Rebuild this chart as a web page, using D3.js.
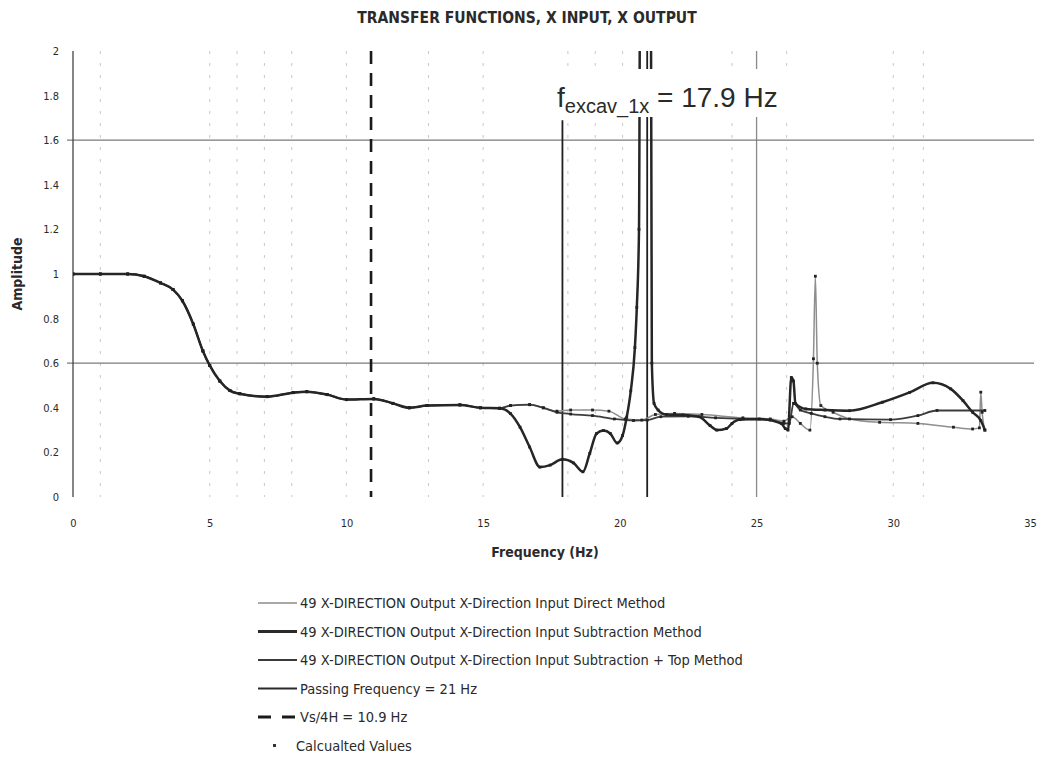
<!DOCTYPE html>
<html>
<head>
<meta charset="utf-8">
<script src="https://cdn.jsdelivr.net/npm/d3@7"></script>
<style>
  body { margin: 0; background: #fff; }
  text { font-family: "Liberation Sans Narrow", "DejaVu Sans Condensed", sans-serif; fill: #2a2a2a; }
</style>
</head>
<body>
<div id="chart"></div>
<script>
/* DATA, [frequency Hz, amplitude] */
// the three curves lie on top of each other up to ~15.6 Hz
const commonPart = [
  [0, 1.0], [1, 1.0], [2, 1.0], [2.6, 0.99], [3.2, 0.96], [3.66, 0.93], [4.0, 0.88],
  [4.4, 0.775], [4.75, 0.655], [5.0, 0.59], [5.37, 0.52], [5.74, 0.477], [6.1, 0.463],
  [7.1, 0.45], [8.05, 0.468], [8.55, 0.472], [9.3, 0.459], [10.0, 0.437], [11.0, 0.44],
  [11.7, 0.42], [12.3, 0.40], [12.95, 0.41], [14.15, 0.413], [14.9, 0.40], [15.6, 0.398]
];

const directTail = [
  [16.0, 0.41], [16.7, 0.414], [17.2, 0.40], [17.7, 0.385], [18.2, 0.39], [19.0, 0.39],
  [19.6, 0.385], [20.2, 0.35], [20.8, 0.345], [21.3, 0.37], [22.0, 0.375], [23.0, 0.37],
  [24.5, 0.355], [25.5, 0.35], [26.0, 0.34], [26.3, 0.36], [26.6, 0.33], [26.95, 0.30],
  [27.08, 0.62], [27.15, 0.99], [27.22, 0.6], [27.35, 0.41], [27.8, 0.38], [28.4, 0.35],
  [29.5, 0.335], [30.9, 0.33], [32.2, 0.313], [32.9, 0.305], [33.15, 0.31], [33.2, 0.47],
  [33.25, 0.38], [33.35, 0.30]
];

const subtractionTail = [
  [16.0, 0.374], [16.35, 0.313], [16.7, 0.224], [17.08, 0.134], [17.45, 0.143], [17.9, 0.169],
  [18.3, 0.153], [18.65, 0.113], [18.9, 0.196], [19.15, 0.285], [19.4, 0.298], [19.65, 0.285],
  [19.9, 0.242], [20.1, 0.276], [20.25, 0.358], [20.4, 0.476], [20.55, 0.67], [20.62, 0.85],
  [20.7, 1.2], [20.76, 3.0], [21.12, 3.0], [21.17, 0.6], [21.25, 0.42], [21.4, 0.39],
  [21.7, 0.37], [22.3, 0.368], [22.9, 0.36], [23.3, 0.32], [23.55, 0.30], [23.9, 0.307],
  [24.1, 0.33], [24.4, 0.347], [25.1, 0.35], [25.9, 0.33], [26.05, 0.307], [26.15, 0.30],
  [26.27, 0.536], [26.35, 0.52], [26.42, 0.42], [26.8, 0.395], [27.5, 0.39], [28.4, 0.387],
  [29.6, 0.425], [30.6, 0.469], [31.45, 0.512], [32.1, 0.485], [32.55, 0.432], [32.9, 0.38],
  [33.2, 0.343], [33.35, 0.30]
];

const subTopTail = [
  [16.0, 0.41], [16.7, 0.414], [17.2, 0.40], [17.7, 0.38], [18.2, 0.372], [19.0, 0.365],
  [19.8, 0.35], [20.5, 0.343], [21.0, 0.345], [21.5, 0.36], [22.5, 0.362], [23.5, 0.355],
  [24.5, 0.35], [25.5, 0.345], [26.0, 0.33], [26.2, 0.33], [26.35, 0.42], [26.6, 0.39],
  [27.0, 0.375], [27.5, 0.36], [28.05, 0.35], [29.9, 0.347], [30.9, 0.365], [31.6, 0.388],
  [33.35, 0.388]
];

const directData = commonPart.concat(directTail);
const subtractionData = commonPart.concat(subtractionTail);
const subTopData = commonPart.concat(subTopTail);

const xTicks = [0, 5, 10, 15, 20, 25, 30, 35];
const yTicks = [0, 0.2, 0.4, 0.6, 0.8, 1, 1.2, 1.4, 1.6, 1.8, 2];
const hGridLevels = [0.6, 1.6];
const vGridFaint = [1, 5, 6, 7, 8, 10, 13, 15, 18.1, 19.1, 20.1, 24.1, 26.1, 30, 31.1];
const vGridSolid = [25];
const vsFreq = 10.9;        // Vs/4H
const excavFreq = 17.9;     // f_excav_1x
const excavTop = 1.69;
const passFreq = 21;        // passing frequency

const legendLabels = [
  "49 X-DIRECTION Output X-Direction Input Direct Method",
  "49 X-DIRECTION Output X-Direction Input Subtraction Method",
  "49 X-DIRECTION Output X-Direction Input Subtraction + Top Method",
  "Passing Frequency = 21 Hz",
  "Vs/4H = 10.9 Hz",
  "Calcualted Values"
];

/* CONSTANTS */
const width = 1044, height = 765;
const margin = { top: 51, right: 14, bottom: 268, left: 73 };

const svg = d3.select("#chart").append("svg")
  .attr("width", width)
  .attr("height", height);

const xScale = d3.scaleLinear().domain([0, 35]).range([margin.left, width - margin.right]);
const yScale = d3.scaleLinear().domain([0, 2]).range([height - margin.bottom, margin.top]);

svg.append("clipPath").attr("id", "plot")
  .append("rect")
  .attr("x", margin.left).attr("y", margin.top)
  .attr("width", xScale(35) - margin.left)
  .attr("height", yScale(0) - margin.top);

// title
svg.append("text")
  .attr("x", 527).attr("y", 23)
  .attr("text-anchor", "middle")
  .attr("font-size", 15.5).attr("font-weight", "bold")
  .text("TRANSFER FUNCTIONS, X INPUT, X OUTPUT");

// faint gridlines
svg.append("g").selectAll("line")
  .data(vGridFaint)
  .join("line")
  .attr("x1", d => xScale(d)).attr("x2", d => xScale(d))
  .attr("y1", yScale(2)).attr("y2", yScale(0))
  .attr("stroke", "#c8c8c8").attr("stroke-width", 1)
  .attr("stroke-dasharray", "3,9");

svg.append("g").selectAll("line")
  .data(vGridSolid)
  .join("line")
  .attr("x1", d => xScale(d)).attr("x2", d => xScale(d))
  .attr("y1", yScale(2)).attr("y2", yScale(0))
  .attr("stroke", "#8a8a8a").attr("stroke-width", 1.3);

svg.append("g").selectAll("line")
  .data(hGridLevels)
  .join("line")
  .attr("x1", margin.left - 6).attr("x2", xScale(35) + 4)
  .attr("y1", d => yScale(d)).attr("y2", d => yScale(d))
  .attr("stroke", "#7a7a7a").attr("stroke-width", 1.2);

// axes
const yAxis = d3.axisLeft(yScale).tickValues(yTicks).tickSize(0).tickPadding(14)
  .tickFormat(d3.format("~g"));
svg.append("g")
  .attr("transform", `translate(${margin.left},0)`)
  .call(yAxis)
  .call(g => g.select(".domain").remove())
  .selectAll("text").attr("font-size", 11).attr("fill", "#333");

svg.append("line")
  .attr("x1", margin.left).attr("x2", margin.left)
  .attr("y1", yScale(2)).attr("y2", yScale(0))
  .attr("stroke", "#444").attr("stroke-width", 1.3);

const xAxis = d3.axisBottom(xScale).tickValues(xTicks).tickSize(0).tickPadding(22);
svg.append("g")
  .attr("transform", `translate(0,${yScale(0)})`)
  .call(xAxis)
  .call(g => g.select(".domain").remove())
  .selectAll("text").attr("font-size", 11).attr("fill", "#333");

svg.append("text")
  .attr("transform", `translate(22,${yScale(1)}) rotate(-90)`)
  .attr("text-anchor", "middle")
  .attr("font-size", 14).attr("font-weight", "bold")
  .text("Amplitude");

svg.append("text")
  .attr("x", 545).attr("y", 557)
  .attr("text-anchor", "middle")
  .attr("font-size", 14).attr("font-weight", "bold")
  .text("Frequency (Hz)");

// reference lines
svg.append("line")
  .attr("x1", xScale(vsFreq)).attr("x2", xScale(vsFreq))
  .attr("y1", yScale(2)).attr("y2", yScale(0))
  .attr("stroke", "#1a1a1a").attr("stroke-width", 2.6)
  .attr("stroke-dasharray", "13,9");

svg.append("line")
  .attr("x1", xScale(excavFreq)).attr("x2", xScale(excavFreq))
  .attr("y1", yScale(excavTop)).attr("y2", yScale(0))
  .attr("stroke", "#1f1f1f").attr("stroke-width", 1.8);

svg.append("line")
  .attr("x1", xScale(passFreq)).attr("x2", xScale(passFreq))
  .attr("y1", yScale(2)).attr("y2", yScale(0))
  .attr("stroke", "#1f1f1f").attr("stroke-width", 1.8);

// series
const lineGen = d3.line()
  .x(d => xScale(d[0]))
  .y(d => yScale(d[1]))
  .curve(d3.curveMonotoneX);

const series = [
  { data: directData, color: "#8e8e8e", w: 1.5 },
  { data: subTopData, color: "#3c3c3c", w: 1.8 },
  { data: subtractionData, color: "#262626", w: 2.5 }
];

const plot = svg.append("g").attr("clip-path", "url(#plot)");

plot.selectAll(".series")
  .data(series)
  .join("path")
  .attr("class", "series")
  .attr("fill", "none")
  .attr("stroke", d => d.color)
  .attr("stroke-width", d => d.w)
  .attr("stroke-linejoin", "round")
  .attr("d", d => lineGen(d.data));

// calculated values markers
plot.selectAll(".pt")
  .data(series.flatMap(s => s.data.filter(p => p[1] <= 2)))
  .join("rect")
  .attr("class", "pt")
  .attr("x", d => xScale(d[0]) - 1.4)
  .attr("y", d => yScale(d[1]) - 1.4)
  .attr("width", 2.8).attr("height", 2.8)
  .attr("fill", "#222");

// f_excav label with white box
svg.append("rect")
  .attr("x", 553).attr("y", 69)
  .attr("width", 252).attr("height", 48)
  .attr("fill", "#fff");

const lab = svg.append("text")
  .attr("x", 557).attr("y", 107)
  .attr("font-size", 28)
  .style("font-family", "'Liberation Sans', Arial, sans-serif");
lab.append("tspan").text("f");
lab.append("tspan").attr("font-size", 20).attr("dy", 6).text("excav_1x");
lab.append("tspan").attr("dy", -6).text(" = 17.9 Hz");

// legend
const legendX = 258, legendY0 = 603, legendStep = 28.5;
const legendStyles = [
  { color: "#a8a8a8", w: 2, dash: null },
  { color: "#2a2a2a", w: 3, dash: null },
  { color: "#3a3a3a", w: 2.2, dash: null },
  { color: "#2a2a2a", w: 1.8, dash: null },
  { color: "#1a1a1a", w: 3, dash: "13,11" },
  null
];

const leg = svg.append("g");
legendLabels.forEach((label, i) => {
  const yy = legendY0 + i * legendStep;
  const st = legendStyles[i];
  if (st) {
    leg.append("line")
      .attr("x1", legendX).attr("x2", legendX + 39)
      .attr("y1", yy).attr("y2", yy)
      .attr("stroke", st.color).attr("stroke-width", st.w)
      .attr("stroke-dasharray", st.dash);
  } else {
    leg.append("rect")
      .attr("x", legendX + 15).attr("y", yy - 1.5)
      .attr("width", 3).attr("height", 3)
      .attr("fill", "#333");
  }
  leg.append("text")
    .attr("x", legendX + 42 - (st ? 0 : 4)).attr("y", yy + 5)
    .attr("font-size", 14.5)
    .attr("fill", "#333")
    .text(label);
});
</script>
</body>
</html>
